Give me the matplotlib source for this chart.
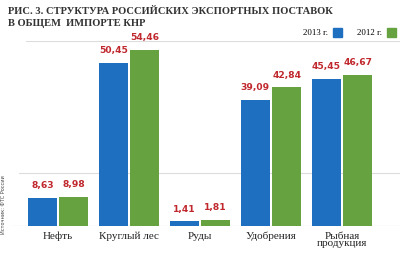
import matplotlib.pyplot as plt
import numpy as np

categories = ["Нефть", "Круглый лес", "Руды", "Удобрения", "Рыбная\nпродукция"]
values_2013 = [8.63, 50.45, 1.41, 39.09, 45.45]
values_2012 = [8.98, 54.46, 1.81, 42.84, 46.67]
labels_2013 = ["8,63", "50,45", "1,41", "39,09", "45,45"]
labels_2012 = ["8,98", "54,46", "1,81", "42,84", "46,67"]

blue = "#1f6fc0"
green = "#66a23f"
red = "#c0282d"
serif = ["Liberation Serif", "DejaVu Serif"]

W, H = 400, 257
fig = plt.figure(figsize=(W / 100, H / 100), dpi=100)
base = 226
top = 41
ax = fig.add_axes([0, (H - base) / H, 1, (base - top) / H])
ymax = 57.2
ax.set_ylim(0, ymax)
x = np.arange(len(categories))
# group centres at ~58 px, spacing ~71 px
ax.set_xlim(-58 / 71, (W - 58) / 71)
for s in ax.spines.values():
    s.set_visible(False)
ax.set_xticks([])
ax.set_yticks([])

# grid lines
ax.plot([-0.45, 4.85], [ymax, ymax], color="#dcdcdc", lw=0.8, zorder=0)
ax.plot([-0.55, 4.85], [16.3, 16.3], color="#dcdcdc", lw=0.8, zorder=0)
ax.plot([-0.65, 4.85], [0, 0], color="#c8c8c8", lw=0.8, zorder=0)

w = 0.41
off = 0.22
ax.bar(x - off, values_2013, width=w, color=blue, zorder=2, linewidth=0)
ax.bar(x + off, values_2012, width=w, color=green, zorder=2, linewidth=0)

for i in range(len(categories)):
    ax.text(x[i] - off, values_2013[i] + 2.4, labels_2013[i], ha="center", va="bottom",
            color=red, fontsize=6.6, fontweight="bold")
    ax.text(x[i] + off, values_2012[i] + 2.4, labels_2012[i], ha="center", va="bottom",
            color=red, fontsize=6.6, fontweight="bold")
    ax.text(x[i], -1.8, categories[i], ha="center", va="top", family=serif,
            fontsize=8, color="#222222", linespacing=0.8)

fig.text(8 / W, 1 - 11 / H, "РИС. 3. СТРУКТУРА РОССИЙСКИХ ЭКСПОРТНЫХ ПОСТАВОК",
         family=serif, fontsize=7.6, fontweight="bold", color="#333333", va="center")
fig.text(8 / W, 1 - 23 / H, "В ОБЩЕМ  ИМПОРТЕ КНР",
         family=serif, fontsize=7.6, fontweight="bold", color="#333333", va="center")

# legend
fig.text(328 / W, 1 - 33 / H, "2013 г.", family=serif, fontsize=6.4, ha="right", va="center")
fig.patches.append(plt.Rectangle((333 / W, 1 - 37 / H), 9 / W, 9 / H,
                                 transform=fig.transFigure, color=blue))
fig.text(382 / W, 1 - 33 / H, "2012 г.", family=serif, fontsize=6.4, ha="right", va="center")
fig.patches.append(plt.Rectangle((387 / W, 1 - 37 / H), 9 / W, 9 / H,
                                 transform=fig.transFigure, color=green))

fig.text(4 / W, 1 - 205 / H, "Источник: ФТС России", rotation=90, fontsize=3.6,
         color="#444444", ha="center", va="center")

fig.savefig("out.png", dpi=100)
